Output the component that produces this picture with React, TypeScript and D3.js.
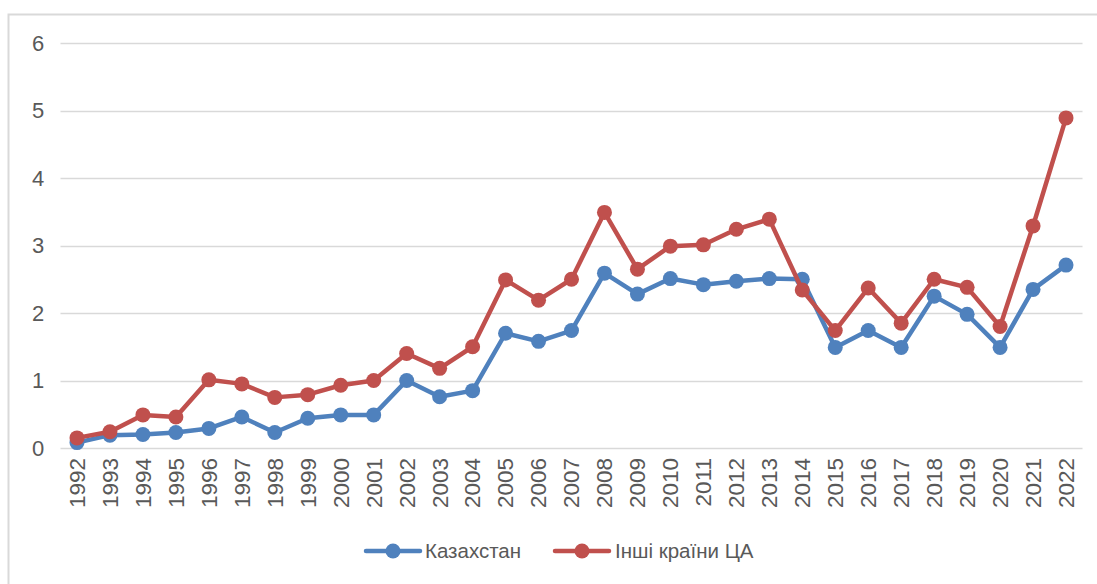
import React from "react";
import * as d3 from "d3";

const years = d3.range(1992, 2023).map(String);

const kazakhstan = [
  0.08, 0.19, 0.2, 0.23, 0.29, 0.46, 0.23, 0.44, 0.49, 0.49,
  1.0, 0.76, 0.85, 1.7, 1.58, 1.74, 2.59, 2.28, 2.51, 2.42,
  2.47, 2.51, 2.5, 1.49, 1.74, 1.49, 2.25, 1.98, 1.49, 2.35, 2.71,
];

const otherCA = [
  0.15, 0.24, 0.49, 0.46, 1.01, 0.95, 0.75, 0.79, 0.93, 1.0,
  1.4, 1.18, 1.5, 2.49, 2.19, 2.5, 3.49, 2.65, 2.99, 3.01,
  3.24, 3.39, 2.34, 1.74, 2.37, 1.85, 2.5, 2.38, 1.8, 3.29, 4.89,
];

const yTicks = [0, 1, 2, 3, 4, 5, 6];

const series = [
  {name: "Казахстан", values: kazakhstan, color: "#4F81BD"},
  {name: "Інші країни ЦА", values: otherCA, color: "#C0504D"},
];

const W = 1097;
const H = 584;
const font = "'Liberation Sans', Arial, sans-serif";
const textColor = "#595959";

export default function App() {
  const x = d3.scalePoint().domain(years).range([60.5, 1082.5]).padding(0.5);
  const y = d3.scaleLinear().domain([0, 6]).range([448, 43]);

  const line = d3
    .line<number>()
    .x((_, i) => x(years[i]))
    .y((d) => y(d));

  // legend layout
  const legendY = 551;
  const legendItems = [
    {lineX: 366, textX: 425},
    {lineX: 555, textX: 615},
  ];

  return (
    <>
      <style>{`body{margin:0}`}</style>
      <svg width={W} height={H} style={{display: "block", background: "#fff"}}>
        <rect x={8.5} y={14.5} width={1100} height={600} fill="#fff" stroke="#D9D9D9" strokeWidth={2} />

        {/* grid + y labels */}
        {yTicks.map((t) => (
          <g key={t}>
            <line x1={60.5} x2={1082.5} y1={Math.round(y(t)) + 0.5} y2={Math.round(y(t)) + 0.5} stroke="#D9D9D9" strokeWidth={1.5} />
            <text x={38} y={y(t)} dy="0.35em" textAnchor="middle" fontFamily={font} fontSize={22} fill={textColor}>
              {t}
            </text>
          </g>
        ))}

        {/* x labels */}
        {years.map((yr) => (
          <text
            key={yr}
            transform={`translate(${x(yr)},458) rotate(-90)`}
            dy="0.35em"
            textAnchor="end"
            fontFamily={font}
            fontSize={22.5}
            fill={textColor}
          >
            {yr}
          </text>
        ))}

        {/* series */}
        {series.map((s) => (
          <g key={s.name}>
            <path d={line(s.values)} fill="none" stroke={s.color} strokeWidth={4.5} strokeLinejoin="round" strokeLinecap="round" />
            {s.values.map((v, i) => (
              <circle key={i} cx={x(years[i])} cy={y(v)} r={7.5} fill={s.color} />
            ))}
          </g>
        ))}

        {/* legend */}
        {series.map((s, i) => (
          <g key={s.name}>
            <line x1={legendItems[i].lineX} x2={legendItems[i].lineX + 54} y1={legendY} y2={legendY} stroke={s.color} strokeWidth={4.5} strokeLinecap="round" />
            <circle cx={legendItems[i].lineX + 27} cy={legendY} r={7.5} fill={s.color} />
            <text x={legendItems[i].textX} y={legendY} dy="0.35em" fontFamily={font} fontSize={20.5} fill={textColor}>
              {s.name}
            </text>
          </g>
        ))}
      </svg>
    </>
  );
}
